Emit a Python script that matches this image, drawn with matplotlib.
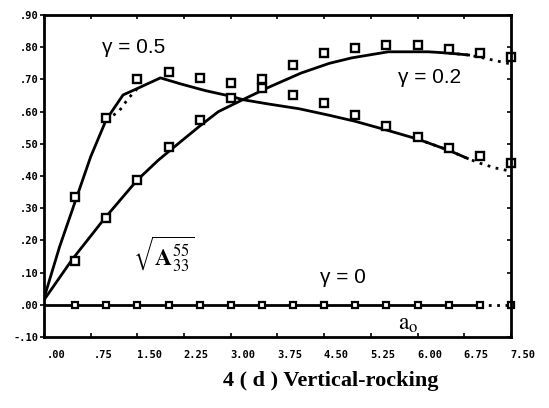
import matplotlib
matplotlib.use('Agg')
import matplotlib.pyplot as plt
import matplotlib.transforms as mtransforms

# square markers (computed points), at a0 = .5 ... 7.5
a0_pts = [0.5, 1.0, 1.5, 2.0, 2.5, 3.0, 3.5, 4.0, 4.5, 5.0, 5.5, 6.0, 6.5, 7.0, 7.5]
g05_pts = [0.335, 0.58, 0.70, 0.723, 0.705, 0.69, 0.674, 0.652, 0.627, 0.59,
           0.556, 0.522, 0.488, 0.463, 0.44]
g02_pts = [0.137, 0.27, 0.388, 0.49, 0.575, 0.643, 0.70, 0.745, 0.783, 0.798,
           0.807, 0.807, 0.795, 0.783, 0.77]
g0_pts = [0.0, 0.0, 0.0, 0.0, 0.0, 0.0, 0.0, 0.0, 0.0, 0.0, 0.0, 0.0, 0.0, 0.0, 0.0]

# solid curves
g05_x = [0, 0.25, 0.5, 0.75, 1.0, 1.27, 1.5, 1.87, 2.2, 2.6, 3.0, 3.2, 3.6,
         4.1, 4.6, 5.0, 5.5, 6.0, 6.5, 6.8]
g05_y = [0.02, 0.18, 0.32, 0.46, 0.575, 0.652, 0.672, 0.705, 0.686, 0.665,
         0.648, 0.637, 0.624, 0.609, 0.588, 0.57, 0.543, 0.515, 0.48, 0.455]
g02_x = [0, 0.45, 0.98, 1.5, 1.84, 2.19, 2.5, 2.8, 3.19, 3.6, 4.13, 4.58,
         4.94, 5.53, 6.17, 6.5, 6.82]
g02_y = [0.015, 0.14, 0.27, 0.388, 0.45, 0.506, 0.555, 0.6, 0.637, 0.675,
         0.72, 0.75, 0.767, 0.786, 0.786, 0.782, 0.776]
g0_x = [0, 7.0]
g0_y = [0.0, 0.0]

# dotted parts
g05_kink_x = [1.0, 1.2, 1.35, 1.5]
g05_kink_y = [0.575, 0.60, 0.64, 0.672]
g05_tail_x = [6.0, 6.5, 6.8, 7.0, 7.25, 7.5]
g05_tail_y = [0.515, 0.48, 0.455, 0.44, 0.425, 0.415]
g02_tail_x = [6.5, 6.82, 7.1, 7.5]
g02_tail_y = [0.782, 0.776, 0.765, 0.748]
g0_tail_x = [7.0, 7.5]
g0_tail_y = [0.0, 0.0]

xticks = [0, 0.75, 1.5, 2.25, 3.0, 3.75, 4.5, 5.25, 6.0, 6.75, 7.5]
xlabels = ['.00', '.75', '1.50', '2.25', '3.00', '3.75', '4.50', '5.25', '6.00', '6.75', '7.50']
yticks = [0.9, 0.8, 0.7, 0.6, 0.5, 0.4, 0.3, 0.2, 0.1, 0.0, -0.1]
ylabels = ['.90', '.80', '.70', '.60', '.50', '.40', '.30', '.20', '.10', '.00', '-.10']

plt.rcParams['mathtext.fontset'] = 'stix'
serif = 'Liberation Serif'
sans = 'Liberation Sans'

fig = plt.figure(figsize=(5.49, 4.08), dpi=100)
ax = fig.add_axes([0.0801, 0.174, 0.8506, 0.789])

dot = (0, (1, 2))
ax.plot(g05_x, g05_y, color='black', lw=2)
ax.plot(g02_x, g02_y, color='black', lw=2)
ax.plot(g0_x, g0_y, color='black', lw=2)
ax.plot(g05_kink_x, g05_kink_y, color='black', lw=2, ls=dot)
ax.plot(g05_tail_x, g05_tail_y, color='black', lw=2, ls=dot)
ax.plot(g02_tail_x, g02_tail_y, color='black', lw=2, ls=dot)
ax.plot(g0_tail_x, g0_tail_y, color='black', lw=2, ls=dot)

ax.plot(a0_pts, g05_pts, 's', ms=5.3, mfc='white', mec='black', mew=1.7, clip_on=False)
ax.plot(a0_pts, g02_pts, 's', ms=5.3, mfc='white', mec='black', mew=1.7, clip_on=False)
ax.plot(a0_pts, g0_pts, 's', ms=3.8, mfc='white', mec='black', mew=1.6, clip_on=False)

ax.set_xlim(0, 7.5)
ax.set_ylim(-0.1, 0.9)
for s in ax.spines.values():
    s.set_linewidth(2)

ax.set_xticks(xticks)
ax.set_xticklabels(xlabels, family='DejaVu Sans Mono', weight='bold', fontsize=7.5)
ax.set_yticks(yticks)
ax.set_yticklabels(ylabels, family='DejaVu Sans Mono', weight='bold', fontsize=7.5)
ax.tick_params(axis='x', direction='in', top=True, length=3, width=1.2, pad=9)
ax.tick_params(axis='y', direction='out', length=3, width=1.2, pad=1, right=True)

# right-side ticks point inward
for t in ax.yaxis.get_major_ticks():
    t.tick2line.set_marker(0)
    t.tick2line.set_markersize(3)

# x labels sit a little to the right of their ticks
shift = mtransforms.ScaledTranslation(0.12, 0, fig.dpi_scale_trans)
for lab in ax.get_xticklabels():
    lab.set_transform(lab.get_transform() + shift)

ax.text(0.93, 0.80, 'γ = 0.5', family=sans, fontsize=15, ha='left', va='center')
ax.text(5.69, 0.705, 'γ = 0.2', family=sans, fontsize=15, ha='left', va='center')
ax.text(4.43, 0.084, 'γ = 0', family=sans, fontsize=15, ha='left', va='center')
ax.text(5.69, -0.056, r'$\mathrm{a_o}$', fontsize=17, ha='left', va='center')
ax.text(1.43, 0.155, r'$\sqrt{\mathbf{A}^{55}_{33}}$', fontsize=17, ha='left', va='center')

fig.text(0.603, 0.066, '4 ( d ) Vertical-rocking', family=serif, weight='bold',
         fontsize=16, ha='center', va='center')

fig.savefig('out.png', dpi=100)
